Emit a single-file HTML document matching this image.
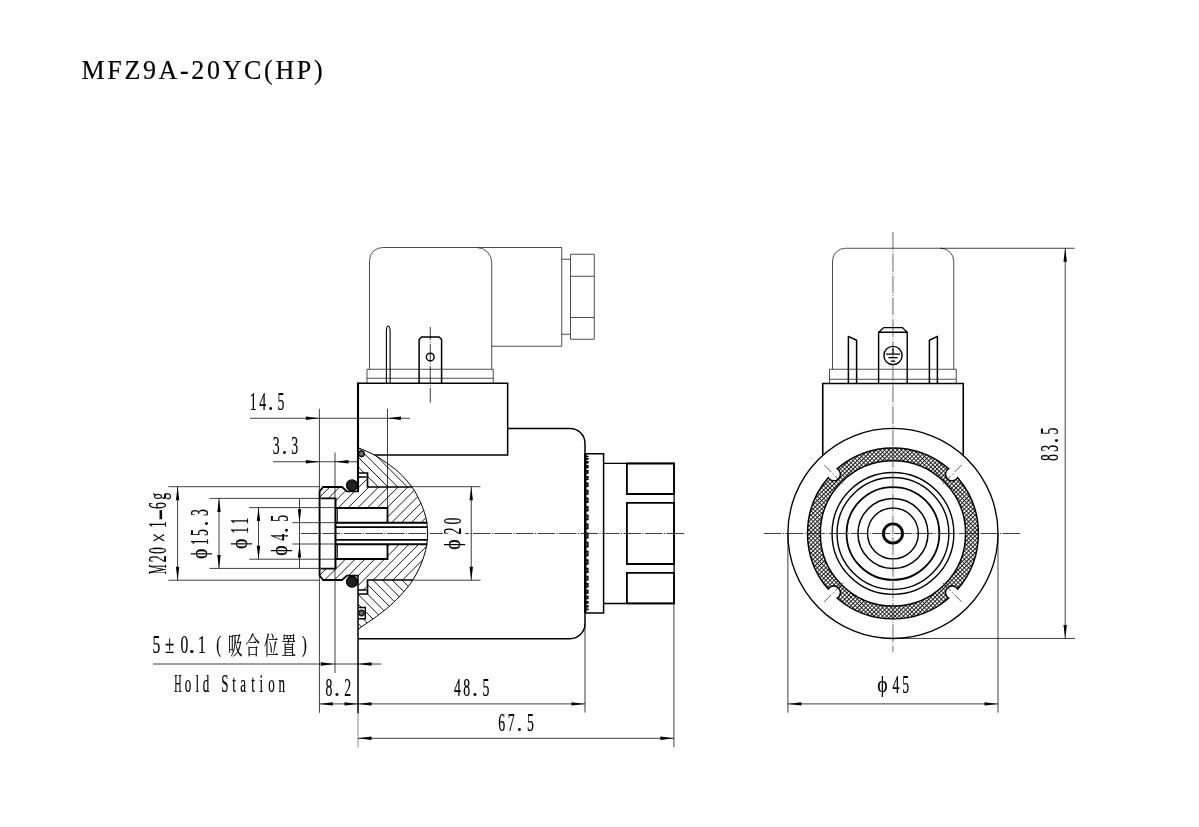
<!DOCTYPE html>
<html lang="zh"><head><meta charset="utf-8"><title>MFZ9A-20YC(HP)</title>
<style>html,body{margin:0;padding:0;background:#fff;}svg{display:block;will-change:transform;}text{font-family:'Liberation Serif','Noto Serif CJK SC',serif;fill:#000;stroke:#000;stroke-width:.2px;}</style></head><body>
<svg width="1199" height="827" viewBox="0 0 1199 827">
<defs>
<pattern id="net" patternUnits="userSpaceOnUse" width="2.97" height="2.97" patternTransform="translate(893,533.43) rotate(45)"><rect width="2.97" height="2.97" fill="#fff"/><path d="M0,0 H2.97 M0,0 V2.97" stroke="#000" stroke-width="1.7"/></pattern>
<pattern id="oring" patternUnits="userSpaceOnUse" width="2" height="2" patternTransform="rotate(45)"><rect width="2" height="2" fill="#333"/><path d="M0,0 H2" stroke="#000" stroke-width="1.6"/></pattern>
</defs>
<rect width="1199" height="827" fill="#fff"/>
<text transform="translate(81.5,78.5) scale(0.93,1)" x="0" y="0" font-size="28" textLength="259.3" lengthAdjust="spacing">MFZ9A-20YC(HP)</text>
<g id="left-view" stroke-linecap="butt" stroke-linejoin="miter">
<path d="M369.5,369.25 V260.5 A13,13 0 0 1 382.5,247.5 H476.75 A15,15 0 0 1 491.75,262.5 V369.25" stroke="#222" stroke-width="0.8" fill="none" />
<path d="M477,247.5 H561.75 V346.25 H491.75" stroke="#222" stroke-width="0.8" fill="none" />
<path d="M561.75,259.25 H570.5 M561.75,334.25 H570.5" stroke="#222" stroke-width="0.8" fill="none" />
<path d="M570.5,254.25 H594.25 V339.25 H570.5 Z M570.5,276.25 H594.25 M570.5,317.5 H594.25" stroke="#222" stroke-width="0.8" fill="none" />
<path d="M367,383 V369.25 H493.25 V383 M367,378.25 H493.25" stroke="#222" stroke-width="0.8" fill="none" />
<path d="M386.4,383 V331 Q386.6,326.0 388.25,326.0 Q389.9,326.0 390.1,331 V383" stroke="#000" stroke-width="1.1" fill="none" />
<path d="M419.1,383 V339.5 L421.6,336.9 H439.1 L441.6,339.5 V383" stroke="#000" stroke-width="1.5" fill="none" />
<circle cx="430.25" cy="357.10" r="3.90" stroke="#000" stroke-width="1.4" fill="none" />
<line x1="430.25" y1="327.00" x2="430.25" y2="402.50" stroke="#000" stroke-width="0.8" stroke-dasharray="17.8 1.5 1 1.5" stroke-dashoffset="4.8"/>
<path d="M358,491.6 V382.6" stroke="#000" stroke-width="2.1" fill="none" />
<path d="M357,383.3 H507.65 V455 H374.2" stroke="#000" stroke-width="1.5" fill="none" />
<path d="M507.65,428.4 H570 A15,15 0 0 1 585,443.4 V623.7 A15,15 0 0 1 570,638.7 H358" stroke="#000" stroke-width="1.5" fill="none" />
<line x1="358.00" y1="575.00" x2="358.00" y2="713.20" stroke="#000" stroke-width="1.5" />
<path d="M585,453.7 H603.6 V612.9 H585" stroke="#000" stroke-width="1.5" fill="none" />
<path d="M585.5,456.33 H588.0 V456.37 H585.5 Z M585.5,458.47 H588.0 V459.14 H585.5 Z M585.5,461.61 H588.0 V462.89 H585.5 Z M585.5,465.71 H588.0 V467.57 H585.5 Z M585.5,470.70 H588.0 V473.10 H585.5 Z M585.5,476.54 H588.0 V479.43 H585.5 Z M585.5,483.13 H588.0 V486.46 H585.5 Z M585.5,490.40 H588.0 V494.10 H585.5 Z M585.5,498.24 H588.0 V502.26 H585.5 Z M585.5,506.56 H588.0 V510.82 H585.5 Z M585.5,515.24 H588.0 V519.67 H585.5 Z M585.5,524.17 H588.0 V528.70 H585.5 Z M585.5,533.23 H588.0 V537.78 H585.5 Z M585.5,542.30 H588.0 V546.79 H585.5 Z M585.5,551.26 H588.0 V555.62 H585.5 Z M585.5,559.99 H588.0 V564.15 H585.5 Z M585.5,568.38 H588.0 V572.27 H585.5 Z M585.5,576.32 H588.0 V579.86 H585.5 Z M585.5,583.70 H588.0 V586.84 H585.5 Z M585.5,590.42 H588.0 V593.10 H585.5 Z M585.5,596.40 H588.0 V598.56 H585.5 Z M585.5,601.56 H588.0 V603.16 H585.5 Z M585.5,605.82 H588.0 V606.83 H585.5 Z M585.5,609.13 H588.0 V609.52 H585.5 Z " fill="#888" stroke="#000" stroke-width="1.25"/>
<line x1="585.30" y1="453.70" x2="585.30" y2="612.90" stroke="#000" stroke-width="2.5" />
<path d="M603.6,463.4 H674.1 V603.5 H603.6" stroke="#000" stroke-width="1.3" fill="none" />
<path d="M626.9,463.5 H674.0 V494.0 H626.9 Z M626.9,502.9 H674.0 V564.0 H626.9 Z M626.9,572.9 H674.0 V603.4 H626.9 Z" stroke="#000" stroke-width="1.85" fill="none" />
<clipPath id="cBodyU"><path d="M358.30,447.80 C363.60,450.13 369.33,452.17 374.20,454.80 C379.07,457.43 383.47,460.73 387.50,463.60 C391.53,466.47 394.37,468.17 398.40,472.00 C402.43,475.83 408.17,481.85 411.70,486.60 C415.23,491.35 417.48,496.17 419.60,500.50 C421.72,504.83 423.20,508.97 424.40,512.60 C425.60,516.23 426.28,518.85 426.80,522.30 C427.32,525.75 427.27,529.63 427.50,533.30 L358,533 Z"/></clipPath>
<clipPath id="cBodyU2"><path d="M358,440 H430 V487 H367.5 V473 H358 Z"/></clipPath>
<clipPath id="cBodyL"><path d="M427.50,533.30 C427.27,537.07 427.42,540.72 426.80,544.60 C426.18,548.48 425.08,552.60 423.80,556.60 C422.52,560.60 420.98,564.62 419.10,568.60 C417.22,572.58 415.15,576.52 412.50,580.50 C409.85,584.48 406.97,588.28 403.20,592.50 C399.43,596.72 394.33,601.82 389.90,605.80 C385.47,609.78 380.58,613.42 376.60,616.40 C372.62,619.38 369.05,621.57 366.00,623.70 C362.95,625.83 360.87,627.37 358.30,629.20 L358,533 Z"/></clipPath>
<clipPath id="cBodyL2"><path d="M358,640 H430 V580.0 H367.5 V594.0 H358 Z M358,607.5 H365.3 V618.8 H358 Z" clip-rule="evenodd"/></clipPath>
<clipPath id="cPlug"><path d="M319.4,491.3 L323,487 H342 L347,491.3 H358 V477 H366.5 V487 H430 V522.75 H387.5 V508 H335.6 V498.4 H319.4 Z M319.4,575.7 L323,580.0 H342 L347,575.7 H358 V590.0 H366.5 V580.0 H430 V544.25 H387.5 V559.0 H335.6 V568.6 H319.4 Z"/></clipPath>
<clipPath id="cArc"><path d="M358.30,447.80 C363.60,450.13 369.33,452.17 374.20,454.80 C379.07,457.43 383.47,460.73 387.50,463.60 C391.53,466.47 394.37,468.17 398.40,472.00 C402.43,475.83 408.17,481.85 411.70,486.60 C415.23,491.35 417.48,496.17 419.60,500.50 C421.72,504.83 423.20,508.97 424.40,512.60 C425.60,516.23 426.28,518.85 426.80,522.30 C427.32,525.75 427.50,529.58 427.50,533.30 C427.50,537.02 427.42,540.72 426.80,544.60 C426.18,548.48 425.08,552.60 423.80,556.60 C422.52,560.60 420.98,564.62 419.10,568.60 C417.22,572.58 415.15,576.52 412.50,580.50 C409.85,584.48 406.97,588.28 403.20,592.50 C399.43,596.72 394.33,601.82 389.90,605.80 C385.47,609.78 380.58,613.42 376.60,616.40 C372.62,619.38 369.05,621.57 366.00,623.70 C362.95,625.83 360.87,627.37 358.30,629.20 L300,629 L300,447 Z"/></clipPath>
<g clip-path="url(#cBodyU)"><g clip-path="url(#cBodyU2)"><path d="M242.80,400 L542.80,700 M252.50,400 L552.50,700 M262.20,400 L562.20,700 M271.90,400 L571.90,700 M281.60,400 L581.60,700 M291.30,400 L591.30,700 M301.00,400 L601.00,700 M310.70,400 L610.70,700 M320.40,400 L620.40,700 M330.10,400 L630.10,700 M339.80,400 L639.80,700 M349.50,400 L649.50,700 M359.20,400 L659.20,700 M368.90,400 L668.90,700 " stroke="#000" stroke-width="0.9" fill="none"/></g></g>
<g clip-path="url(#cBodyL)"><g clip-path="url(#cBodyL2)"><path d="M95.80,400 L395.80,700 M105.50,400 L405.50,700 M115.20,400 L415.20,700 M124.90,400 L424.90,700 M134.60,400 L434.60,700 M144.30,400 L444.30,700 M154.00,400 L454.00,700 M163.70,400 L463.70,700 M173.40,400 L473.40,700 M183.10,400 L483.10,700 M192.80,400 L492.80,700 M202.50,400 L502.50,700 M212.20,400 L512.20,700 M221.90,400 L521.90,700 M231.60,400 L531.60,700 M241.30,400 L541.30,700 M251.00,400 L551.00,700 M260.70,400 L560.70,700 " stroke="#000" stroke-width="0.9" fill="none"/></g></g>
<g clip-path="url(#cArc)"><g clip-path="url(#cPlug)"><path d="M387.60,400 L87.60,700 M397.35,400 L97.35,700 M407.10,400 L107.10,700 M416.85,400 L116.85,700 M426.60,400 L126.60,700 M436.35,400 L136.35,700 M446.10,400 L146.10,700 M455.85,400 L155.85,700 M465.60,400 L165.60,700 M475.35,400 L175.35,700 M485.10,400 L185.10,700 M494.85,400 L194.85,700 M504.60,400 L204.60,700 M514.35,400 L214.35,700 M524.10,400 L224.10,700 M533.85,400 L233.85,700 M543.60,400 L243.60,700 M553.35,400 L253.35,700 M563.10,400 L263.10,700 M572.85,400 L272.85,700 M582.60,400 L282.60,700 M592.35,400 L292.35,700 M602.10,400 L302.10,700 M611.85,400 L311.85,700 M621.60,400 L321.60,700 M631.35,400 L331.35,700 M641.10,400 L341.10,700 M650.85,400 L350.85,700 " stroke="#000" stroke-width="0.9" fill="none"/></g></g>
<path d="M358.30,447.80 C363.60,450.13 369.33,452.17 374.20,454.80 C379.07,457.43 383.47,460.73 387.50,463.60 C391.53,466.47 394.37,468.17 398.40,472.00 C402.43,475.83 408.17,481.85 411.70,486.60 C415.23,491.35 417.48,496.17 419.60,500.50 C421.72,504.83 423.20,508.97 424.40,512.60 C425.60,516.23 426.28,518.85 426.80,522.30 C427.32,525.75 427.50,529.58 427.50,533.30 C427.50,537.02 427.42,540.72 426.80,544.60 C426.18,548.48 425.08,552.60 423.80,556.60 C422.52,560.60 420.98,564.62 419.10,568.60 C417.22,572.58 415.15,576.52 412.50,580.50 C409.85,584.48 406.97,588.28 403.20,592.50 C399.43,596.72 394.33,601.82 389.90,605.80 C385.47,609.78 380.58,613.42 376.60,616.40 C372.62,619.38 369.05,621.57 366.00,623.70 C362.95,625.83 360.87,627.37 358.30,629.20" stroke="#000" stroke-width="1.0" fill="none" />
<path d="M319.6,533.6 V491.3 L323.2,487 H342 L347,491.4 H358.9" stroke="#000" stroke-width="1.8" fill="none" />
<path d="M320.5,498.4 H335.6 V533.6" stroke="#000" stroke-width="1.8" fill="none" />
<path d="M336,508 H387.5 V522.75" stroke="#000" stroke-width="1.8" fill="none" />
<line x1="337.40" y1="508.00" x2="337.40" y2="522.75" stroke="#000" stroke-width="0.9" />
<line x1="335.60" y1="522.75" x2="427.40" y2="522.75" stroke="#000" stroke-width="2.0" />
<line x1="335.60" y1="527.20" x2="427.40" y2="527.20" stroke="#000" stroke-width="1.7" />
<path d="M358,473 H367.5 V487 H412" stroke="#000" stroke-width="1.7" fill="none" />
<line x1="358.00" y1="477.00" x2="366.50" y2="477.00" stroke="#000" stroke-width="1.5" />
<circle cx="352.00" cy="485.30" r="5.40" stroke="#000" stroke-width="1.4" fill="url(#oring)" />
<path d="M319.6,533.4 V575.7 L323.2,580.0 H342 L347,575.6 H358.9" stroke="#000" stroke-width="1.8" fill="none" />
<path d="M320.5,568.6 H335.6 V533.4" stroke="#000" stroke-width="1.8" fill="none" />
<path d="M336,559.0 H387.5 V544.25" stroke="#000" stroke-width="1.8" fill="none" />
<line x1="337.40" y1="559.00" x2="337.40" y2="544.25" stroke="#000" stroke-width="0.9" />
<line x1="335.60" y1="544.25" x2="427.40" y2="544.25" stroke="#000" stroke-width="2.0" />
<line x1="335.60" y1="539.80" x2="427.40" y2="539.80" stroke="#000" stroke-width="1.7" />
<path d="M358,594.0 H367.5 V580.0 H412" stroke="#000" stroke-width="1.7" fill="none" />
<line x1="358.00" y1="590.00" x2="366.50" y2="590.00" stroke="#000" stroke-width="1.5" />
<circle cx="352.00" cy="581.70" r="5.40" stroke="#000" stroke-width="1.4" fill="url(#oring)" />
<circle cx="361.50" cy="453.75" r="2.80" stroke="#111" stroke-width="1.4" fill="#707070" />
<path d="M358,607.5 H365.3 V618.8 H358" stroke="#000" stroke-width="1.4" fill="none" />
<circle cx="361.50" cy="613.00" r="2.70" stroke="#111" stroke-width="1.4" fill="#707070" />
<line x1="301.00" y1="533.47" x2="684.00" y2="533.47" stroke="#222" stroke-width="0.9" stroke-dasharray="17.5 1.5 1 1.5"/>
</g>
<g id="right-view">
<path d="M832.5,369.25 V261 A12.75,12.75 0 0 1 845.25,248.25 H940.75 A13,13 0 0 1 953.75,261.25 V369.25" stroke="#222" stroke-width="0.8" fill="none" />
<path d="M829.5,383 V369.25 H956.25 V383 M829.5,379.25 H956.25" stroke="#222" stroke-width="0.8" fill="none" />
<path d="M848.4,383 V336.4 L856.6,340.2 V383" stroke="#000" stroke-width="1.5" fill="none" stroke-linejoin="round"/>
<path d="M929.4,383 V340.2 L937.4,336.4 V383" stroke="#000" stroke-width="1.5" fill="none" stroke-linejoin="round"/>
<path d="M878.6,383 V332.2 L883.8,327.6 H902.4 L907.2,332.2 V383 M878.6,332.2 H907.2" stroke="#000" stroke-width="1.4" fill="none" />
<circle cx="893.00" cy="355.50" r="9.10" stroke="#000" stroke-width="1.4" fill="none" />
<path d="M893,348.3 V354.2 M886,354.2 H900 M888.4,357.7 H897.6 M890.8,361.2 H895.2" stroke="#000" stroke-width="1.3" fill="none" />
<path d="M822.75,454.83 V383.5 H963.25 V454.83" stroke="#000" stroke-width="1.6" fill="none" />
<circle cx="892.95" cy="533.43" r="105.05" stroke="#000" stroke-width="1.35" fill="none" />
<path d="M948.66,598.22 A85.45,85.45 0 0 1 837.24,598.22 A6.6,6.6 0 1 0 828.16,589.14 A85.45,85.45 0 0 1 828.16,477.72 A6.6,6.6 0 1 0 837.24,468.64 A85.45,85.45 0 0 1 948.66,468.64 A6.6,6.6 0 1 0 957.74,477.72 A85.45,85.45 0 0 1 957.74,589.14 A6.6,6.6 0 1 0 948.66,598.22 Z M820.35,533.43 A72.6,72.6 0 1 0 965.55,533.43 A72.6,72.6 0 1 0 820.35,533.43 Z" fill="url(#net)" fill-rule="evenodd" stroke="#000" stroke-width="1.45"/>
<circle cx="892.95" cy="533.43" r="60.90" stroke="#000" stroke-width="1.4" fill="none" />
<circle cx="892.95" cy="533.43" r="55.90" stroke="#000" stroke-width="1.4" fill="none" />
<circle cx="892.95" cy="533.43" r="46.40" stroke="#000" stroke-width="1.8" fill="none" />
<circle cx="892.95" cy="533.43" r="35.00" stroke="#000" stroke-width="1.5" fill="none" />
<circle cx="892.95" cy="533.43" r="25.40" stroke="#000" stroke-width="1.4" fill="none" />
<circle cx="892.95" cy="533.43" r="9.60" stroke="#000" stroke-width="2.8" fill="none" />
<line x1="763.75" y1="533.47" x2="1021.25" y2="533.47" stroke="#222" stroke-width="0.9" stroke-dasharray="17.7 1.5 1 1.5"/>
<line x1="892.95" y1="232.00" x2="892.95" y2="652.00" stroke="#444" stroke-width="0.8" stroke-dasharray="17.8 1.5 1 1.5"/>
<line x1="843.25" y1="484.23" x2="824.15" y2="464.83" stroke="#333" stroke-width="0.8" stroke-dasharray="11.5 2 1.5 2"/>
<line x1="942.65" y1="484.23" x2="961.75" y2="464.83" stroke="#333" stroke-width="0.8" stroke-dasharray="11.5 2 1.5 2"/>
<line x1="843.25" y1="582.63" x2="824.15" y2="602.03" stroke="#333" stroke-width="0.8" stroke-dasharray="11.5 2 1.5 2"/>
<line x1="942.65" y1="582.63" x2="961.75" y2="602.03" stroke="#333" stroke-width="0.8" stroke-dasharray="11.5 2 1.5 2"/>
</g>
<g id="dimensions">
<line x1="250.00" y1="418.25" x2="410.00" y2="418.25" stroke="#000" stroke-width="0.75" />
<polygon points="319.40,418.25 305.90,419.95 305.90,416.55" fill="#000"/>
<polygon points="387.50,418.25 401.00,416.55 401.00,419.95" fill="#000"/>
<line x1="319.40" y1="408.75" x2="319.40" y2="712.80" stroke="#000" stroke-width="0.75" />
<line x1="387.50" y1="408.75" x2="387.50" y2="508.00" stroke="#000" stroke-width="0.75" />
<text transform="scale(0.530,1)" x="477.92 495.47 510.57 530.19" y="410.00" font-size="26" text-anchor="middle" font-weight="normal">14<tspan textLength="11.05" lengthAdjust="spacingAndGlyphs">.</tspan>5</text>
<line x1="273.00" y1="461.75" x2="357.00" y2="461.75" stroke="#000" stroke-width="0.75" />
<polygon points="319.40,461.75 305.90,463.45 305.90,460.05" fill="#000"/>
<polygon points="335.00,461.75 348.50,460.05 348.50,463.45" fill="#000"/>
<line x1="335.00" y1="452.50" x2="335.00" y2="673.00" stroke="#000" stroke-width="0.75" />
<text transform="scale(0.530,1)" x="521.32 536.79 556.23" y="453.80" font-size="26" text-anchor="middle" font-weight="normal">3<tspan textLength="11.05" lengthAdjust="spacingAndGlyphs">.</tspan>3</text>
<line x1="177.60" y1="486.70" x2="177.60" y2="580.20" stroke="#000" stroke-width="0.75" />
<polygon points="177.60,486.70 179.30,500.20 175.90,500.20" fill="#000"/>
<polygon points="177.60,580.20 175.90,566.70 179.30,566.70" fill="#000"/>
<line x1="168.40" y1="486.70" x2="319.40" y2="486.70" stroke="#000" stroke-width="0.75" />
<line x1="168.40" y1="580.20" x2="319.40" y2="580.20" stroke="#000" stroke-width="0.75" />
<text transform="translate(166.30,580.00) rotate(-90) scale(0.530,1)" x="20.19 40.19 55.66 79.62 104.53 123.21 140.57 157.92" y="0.00" font-size="26" text-anchor="middle" font-weight="normal"><tspan textLength="18.49" lengthAdjust="spacingAndGlyphs">M</tspan>20<tspan font-size="27" textLength="17.82" lengthAdjust="spacingAndGlyphs" dy="1.50">×</tspan><tspan dy="-1.50">1</tspan><tspan font-size="27" font-weight="bold" textLength="21.22" lengthAdjust="spacingAndGlyphs" dy="0.50">-</tspan><tspan dy="-0.50">6</tspan>g</text>
<line x1="219.00" y1="498.40" x2="219.00" y2="568.40" stroke="#000" stroke-width="0.75" />
<polygon points="219.00,498.40 220.70,511.90 217.30,511.90" fill="#000"/>
<polygon points="219.00,568.40 217.30,554.90 220.70,554.90" fill="#000"/>
<line x1="209.50" y1="498.40" x2="320.00" y2="498.40" stroke="#000" stroke-width="0.75" />
<line x1="209.50" y1="568.40" x2="320.00" y2="568.40" stroke="#000" stroke-width="0.75" />
<text transform="translate(208.00,580.00) rotate(-90) scale(0.530,1)" x="49.62 72.26 89.62 106.60 127.17" y="0.00" font-size="26" text-anchor="middle" font-weight="normal"><tspan font-size="24" textLength="19.58" lengthAdjust="spacingAndGlyphs" dy="-1.00">ϕ</tspan><tspan dy="1.00">1</tspan>5<tspan textLength="11.05" lengthAdjust="spacingAndGlyphs">.</tspan>3</text>
<line x1="258.50" y1="507.60" x2="258.50" y2="559.20" stroke="#000" stroke-width="0.75" />
<polygon points="258.50,507.60 260.20,521.10 256.80,521.10" fill="#000"/>
<polygon points="258.50,559.20 256.80,545.70 260.20,545.70" fill="#000"/>
<line x1="249.20" y1="507.60" x2="336.00" y2="507.60" stroke="#000" stroke-width="0.75" />
<line x1="249.20" y1="559.20" x2="336.00" y2="559.20" stroke="#000" stroke-width="0.75" />
<text transform="translate(247.70,580.00) rotate(-90) scale(0.530,1)" x="68.30 93.77 111.13" y="0.00" font-size="26" text-anchor="middle" font-weight="normal"><tspan font-size="24" textLength="19.58" lengthAdjust="spacingAndGlyphs" dy="-1.00">ϕ</tspan><tspan dy="1.00">1</tspan>1</text>
<line x1="299.50" y1="499.10" x2="299.50" y2="567.90" stroke="#000" stroke-width="0.75" />
<polygon points="299.50,522.70 297.80,509.20 301.20,509.20" fill="#000"/>
<polygon points="299.50,544.00 301.20,557.50 297.80,557.50" fill="#000"/>
<line x1="292.40" y1="522.70" x2="336.00" y2="522.70" stroke="#000" stroke-width="0.75" />
<line x1="292.40" y1="544.00" x2="336.00" y2="544.00" stroke="#000" stroke-width="0.75" />
<text transform="translate(288.20,580.00) rotate(-90) scale(0.530,1)" x="55.66 80.38 93.58 116.42" y="0.00" font-size="26" text-anchor="middle" font-weight="normal"><tspan font-size="24" textLength="19.58" lengthAdjust="spacingAndGlyphs" dy="-1.00">ϕ</tspan><tspan dy="1.00">4</tspan><tspan textLength="11.05" lengthAdjust="spacingAndGlyphs">.</tspan>5</text>
<line x1="471.25" y1="486.70" x2="471.25" y2="580.20" stroke="#000" stroke-width="0.75" />
<polygon points="471.25,486.70 472.95,500.20 469.55,500.20" fill="#000"/>
<polygon points="471.25,580.20 469.55,566.70 472.95,566.70" fill="#000"/>
<line x1="412.00" y1="486.70" x2="480.50" y2="486.70" stroke="#000" stroke-width="0.75" />
<line x1="412.00" y1="580.20" x2="480.50" y2="580.20" stroke="#000" stroke-width="0.75" />
<rect x="442.8" y="531" width="22.3" height="4.5" fill="#fff"/>
<text transform="translate(460.70,580.00) rotate(-90) scale(0.530,1)" x="66.89 92.26 111.32" y="0.00" font-size="26" text-anchor="middle" font-weight="normal"><tspan font-size="24" textLength="19.58" lengthAdjust="spacingAndGlyphs" dy="-1.00">ϕ</tspan><tspan dy="1.00">2</tspan>0</text>
<line x1="153.00" y1="664.00" x2="381.30" y2="664.00" stroke="#000" stroke-width="0.75" />
<polygon points="334.40,664.00 320.90,665.70 320.90,662.30" fill="#000"/>
<polygon points="358.00,664.00 371.50,662.30 371.50,665.70" fill="#000"/>
<text transform="scale(0.600,1)" x="260.50 282.83 307.33 319.50 336.50 364.50 391.83 421.00 452.17 481.17 507.50" y="652.80" font-size="26" text-anchor="middle" font-weight="normal">5<tspan textLength="15.41" lengthAdjust="spacingAndGlyphs">±</tspan>0<tspan textLength="11.05" lengthAdjust="spacingAndGlyphs">.</tspan>1<tspan font-size="24" dy="-1.20">(</tspan><tspan font-size="24" dy="2.00">吸</tspan><tspan font-size="24">合</tspan><tspan font-size="24">位</tspan><tspan font-size="24">置</tspan><tspan font-size="24" dy="-2.00">)</tspan></text>
<text transform="scale(0.500,1)" x="355.60 376.00 394.40 412.00 430.80 449.80 468.00 486.40 506.00 522.80 543.20 563.60" y="692.10" font-size="26" text-anchor="middle" font-weight="normal"><tspan textLength="14.65" lengthAdjust="spacingAndGlyphs">H</tspan>old Station</text>
<line x1="319.40" y1="703.90" x2="585.00" y2="703.90" stroke="#000" stroke-width="0.75" />
<polygon points="319.40,703.90 332.90,702.20 332.90,705.60" fill="#000"/>
<polygon points="358.00,703.90 344.50,705.60 344.50,702.20" fill="#000"/>
<polygon points="358.00,703.90 371.50,702.20 371.50,705.60" fill="#000"/>
<polygon points="585.00,703.90 571.50,705.60 571.50,702.20" fill="#000"/>
<line x1="358.00" y1="713.00" x2="358.00" y2="747.50" stroke="#666" stroke-width="0.75" />
<line x1="585.00" y1="624.00" x2="585.00" y2="712.60" stroke="#000" stroke-width="0.75" />
<line x1="358.00" y1="738.30" x2="673.90" y2="738.30" stroke="#000" stroke-width="0.75" />
<polygon points="358.00,738.30 371.50,736.60 371.50,740.00" fill="#000"/>
<polygon points="673.90,738.30 660.40,740.00 660.40,736.60" fill="#000"/>
<line x1="673.90" y1="603.50" x2="673.90" y2="747.20" stroke="#000" stroke-width="0.75" />
<text transform="scale(0.530,1)" x="620.75 635.85 656.23" y="695.80" font-size="26" text-anchor="middle" font-weight="normal">8<tspan textLength="11.05" lengthAdjust="spacingAndGlyphs">.</tspan>2</text>
<text transform="scale(0.530,1)" x="863.21 880.57 896.23 916.79" y="696.20" font-size="26" text-anchor="middle" font-weight="normal">48<tspan textLength="11.05" lengthAdjust="spacingAndGlyphs">.</tspan>5</text>
<text transform="scale(0.530,1)" x="946.79 964.53 980.19 1000.75" y="730.80" font-size="26" text-anchor="middle" font-weight="normal">67<tspan textLength="11.05" lengthAdjust="spacingAndGlyphs">.</tspan>5</text>
<line x1="787.90" y1="703.90" x2="998.00" y2="703.90" stroke="#000" stroke-width="0.75" />
<polygon points="787.90,703.90 801.40,702.20 801.40,705.60" fill="#000"/>
<polygon points="998.00,703.90 984.50,705.60 984.50,702.20" fill="#000"/>
<line x1="787.90" y1="533.00" x2="787.90" y2="712.70" stroke="#000" stroke-width="0.75" />
<line x1="998.00" y1="533.00" x2="998.00" y2="712.70" stroke="#000" stroke-width="0.75" />
<text transform="scale(0.530,1)" x="1664.91 1690.38 1708.68" y="693.00" font-size="26" text-anchor="middle" font-weight="normal"><tspan font-size="24" textLength="19.58" lengthAdjust="spacingAndGlyphs" dy="-1.00">ϕ</tspan><tspan dy="1.00">4</tspan>5</text>
<line x1="1065.20" y1="248.25" x2="1065.20" y2="638.45" stroke="#000" stroke-width="0.75" />
<polygon points="1065.20,248.25 1066.90,261.75 1063.50,261.75" fill="#000"/>
<polygon points="1065.20,638.45 1063.50,624.95 1066.90,624.95" fill="#000"/>
<line x1="940.00" y1="248.25" x2="1074.50" y2="248.25" stroke="#000" stroke-width="0.75" />
<line x1="893.00" y1="638.45" x2="1075.00" y2="638.45" stroke="#000" stroke-width="0.75" />
<text transform="translate(1057.50,580.00) rotate(-90) scale(0.530,1)" x="230.94 248.68 263.02 280.94" y="0.00" font-size="26" text-anchor="middle" font-weight="normal">83<tspan textLength="11.05" lengthAdjust="spacingAndGlyphs">.</tspan>5</text>
</g>
</svg></body></html>
